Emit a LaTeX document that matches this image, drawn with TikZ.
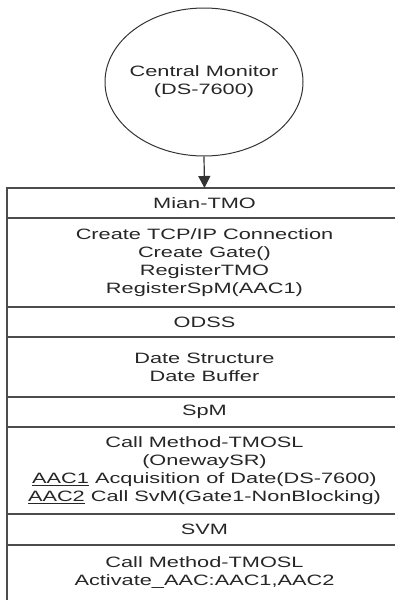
\documentclass[tikz,border=0pt]{standalone}
\usepackage{fontspec}
\setmainfont{Liberation Sans}
\newfontfamily\largofont[FakeStretch=1.45]{Liberation Sans}
\usetikzlibrary{positioning,arrows.meta,shapes.geometric}

\tikzset{
  testo/.style={font=\largofont\fontsize{15}{18}\selectfont, text=black!85},
  riga/.style={testo, draw=black!70, line width=1.3pt, rectangle, minimum width=395pt,
    inner sep=0pt, outer sep=0pt, align=center},
}

\begin{document}
\begin{tikzpicture}[x=1pt,y=-1pt]
        \useasboundingbox (0,0) rectangle (395,600);
        % Monitor centrale
        \node[testo, draw=black!80, line width=1pt, ellipse, minimum width=198pt, minimum height=148pt,
          inner xsep=-6pt, inner ysep=0pt, align=center] (monitor) at (204,82)
          {Central Monitor\\(DS-7600)};
        % Righe della tabella
        \node[riga, minimum height=30pt, anchor=north west] (mian) at (7,188) {Mian-TMO};
        \node[riga, minimum height=89pt, below=0pt of mian] (create)
          {Create TCP/IP Connection\\Create Gate()\\RegisterTMO\\RegisterSpM(AAC1)};
        \node[riga, minimum height=30pt, below=0pt of create] (odss) {ODSS};
        \node[riga, minimum height=60pt, below=0pt of odss] (date) {Date Structure\\Date Buffer};
        \node[riga, minimum height=30pt, below=0pt of date] (spm) {SpM};
        \node[riga, minimum height=87pt, below=0pt of spm] (callspm)
          {Call Method-TMOSL\\(OnewaySR)\\\underline{AAC1} Acquisition of Date(DS-7600)\\\underline{AAC2} Call SvM(Gate1-NonBlocking)};
        \node[riga, minimum height=31pt, below=0pt of callspm] (svm) {SVM};
        \node[riga, minimum height=56pt, below=0pt of svm] (callsvm)
          {Call Method-TMOSL\\Activate\_AAC:AAC1,AAC2};
        % Freccia
        \draw[-{Triangle[width=12pt,length=12pt]}, line width=1.2pt, black!80] (monitor.south) -- (mian.north);
    \end{tikzpicture}
\end{document}
